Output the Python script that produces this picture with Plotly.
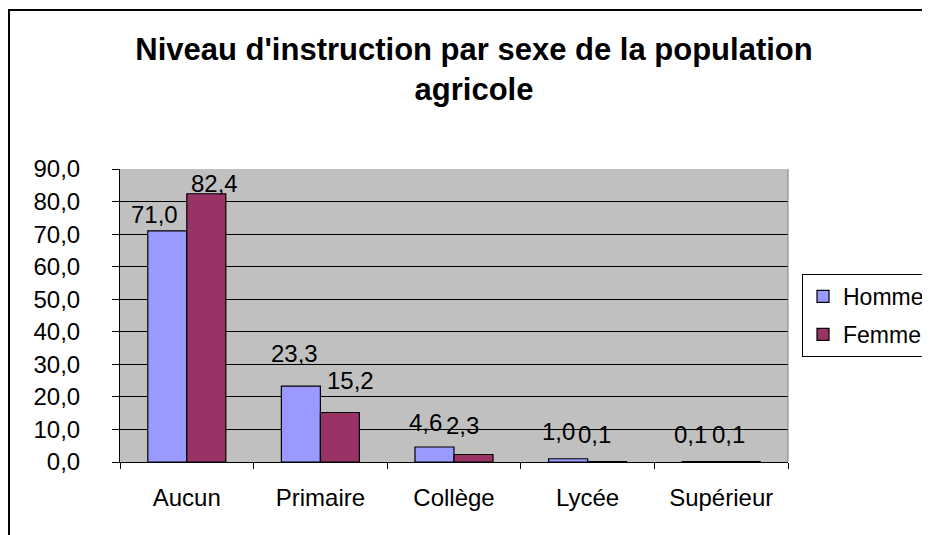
import plotly.graph_objects as go

categories = ["Aucun", "Primaire", "Collège", "Lycée", "Supérieur"]
homme = [71.0, 23.3, 4.6, 1.0, 0.1]
femme = [82.4, 15.2, 2.3, 0.1, 0.1]
series_names = ["Homme", "Femme"]
y_ticks = [0, 10, 20, 30, 40, 50, 60, 70, 80, 90]

# label placement offsets (pixels) relative to category centre / bar top
dx_homme = [-32, -26, -29, -29, -31]
dx_femme = [28, 30, 8, 7, 7]
dy_homme = [16, 33, 25, 27, 27]
dy_femme = [10, 32, 29, 27, 27]

FONT = "Liberation Sans, Arial, sans-serif"
C_H = "#9999FF"
C_F = "#993366"

# the page body has an 8px margin; work in page pixels and convert
OFF = 8
W, H = 930 - OFF, 535 - OFF
PL, PR, PT, PB = 120, 788, 169, 462  # plot area in page pixels
L, R, T, B = PL - OFF, W - (PR - OFF), PT - OFF, H - (PB - OFF)
pw, ph = W - L - R, H - T - B


def px_to_paper_x(px):
    return (px - OFF - L) / pw


def px_to_paper_y(py):
    return (H - B - (py - OFF)) / ph


fig = go.Figure()
fig.add_trace(go.Bar(x=categories, y=homme, name=series_names[0], legendgroup="h",
                     marker=dict(color=C_H, line=dict(color="black", width=1.2))))
fig.add_trace(go.Bar(x=categories, y=femme, name=series_names[1], legendgroup="f",
                     marker=dict(color=C_F, line=dict(color="black", width=1.2))))


def fmt(v):
    return f"{v:.1f}".replace(".", ",")


ann = []
for i, c in enumerate(categories):
    for vals, dxs, dys in ((homme, dx_homme, dy_homme), (femme, dx_femme, dy_femme)):
        ann.append(dict(x=c, y=vals[i], xref="x", yref="y", text=fmt(vals[i]),
                        showarrow=False, xanchor="center", yanchor="middle",
                        xshift=dxs[i], yshift=dys[i],
                        font=dict(family=FONT, size=24, color="black")))

shapes = [
    # outer chart border (left and top visible)
    dict(type="rect", xref="paper", yref="paper",
         x0=px_to_paper_x(9), x1=px_to_paper_x(945),
         y0=px_to_paper_y(550), y1=px_to_paper_y(10),
         line=dict(color="black", width=2), fillcolor="rgba(0,0,0,0)", layer="below"),
    # right plot-area border
    dict(type="line", xref="paper", yref="paper", x0=1, x1=1, y0=0, y1=1,
         line=dict(color="#808080", width=1)),
]

fig.update_layout(
    width=W, height=H,
    margin=dict(l=L, r=R, t=T, b=B, autoexpand=False),
    paper_bgcolor="white",
    plot_bgcolor="#C0C0C0",
    separators=", ",
    barmode="group",
    bargap=0.416,
    bargroupgap=0,
    font=dict(family=FONT, size=24, color="black"),
    title=dict(text="<b>Niveau d'instruction par sexe de la population<br>agricole</b>",
               x=(474 - OFF) / W, xanchor="center", xref="container",
               y=1 - 52 / H, yanchor="top", yref="container",
               font=dict(family=FONT, size=31, color="black")),
    legend=dict(x=px_to_paper_x(802), y=px_to_paper_y(274), xanchor="left", yanchor="top",
                bgcolor="white", bordercolor="black", borderwidth=1,
                tracegroupgap=5,
                font=dict(family=FONT, size=23, color="black")),
    annotations=ann,
    shapes=shapes,
    showlegend=True,
)
fig.update_xaxes(type="category", showline=True, linecolor="black", linewidth=1,
                 ticks="outside", tickson="boundaries", ticklen=6, tickcolor="black",
                 ticklabelstandoff=14, showgrid=False,
                 tickfont=dict(family=FONT, size=24, color="black"))
fig.update_yaxes(range=[0, 90], tickvals=y_ticks, tickformat=".1f",
                 showline=True, linecolor="black", linewidth=1,
                 ticks="outside", ticklen=7, tickcolor="black",
                 ticklabelstandoff=27,
                 showgrid=True, gridcolor="black", gridwidth=1, zeroline=False,
                 tickfont=dict(family=FONT, size=24, color="black"))

fig.write_html("out.html")
